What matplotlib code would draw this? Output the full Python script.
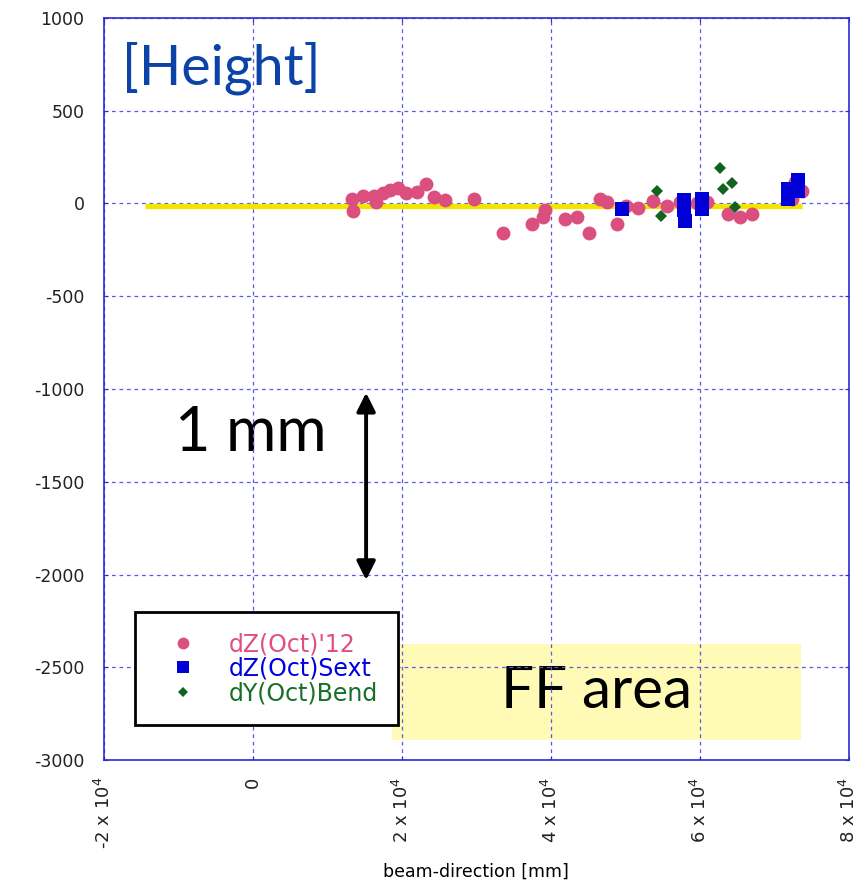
import matplotlib.pyplot as plt
from matplotlib.patches import Rectangle
from matplotlib.ticker import FixedLocator, FixedFormatter

plt.rcParams["axes.unicode_minus"] = False

# 测量数据 (beam-direction [mm], 高度偏差 [um])
dz12_x = [13300, 13500, 14850, 16200, 16500, 17500, 18400, 19550, 20600, 22000,
          23250, 24350, 25800, 29750, 33650, 37450, 39000, 39250, 41900, 43550,
          45200, 46650, 47550, 48850, 50100, 51750, 53700, 55650, 57350, 59600,
          60950, 63850, 65400, 67100, 72350, 72800, 73700]
dz12_y = [25, -38, 43, 43, 7, 56, 74, 85, 56, 61,
          106, 34, 20, 22, -160, -110, -74, -34, -83, -74,
          -160, 25, 7, -110, -11, -23, 16, -11, 7, 0,
          7, -59, -74, -59, 25, 115, 70]

sext_x = [49550, 57950, 57950, 58050, 60350, 60350, 71900, 71900, 73250, 73250]
sext_y = [-29, 20, -34, -92, 22, -29, 79, 25, 128, 70]

bend_x = [54300, 54750, 62700, 63100, 64300, 64750]
bend_y = [65, -70, 192, 79, 110, -20]

ref_x = [-14500, 73800]
ref_y = [-15, -15]

ff_x = [18700, 73600]
ff_y = [-2890, -2375]

x_ticks = [-20000, 0, 20000, 40000, 60000, 80000]
x_labels = ["-2 x 10$^{4}$", "0", "2 x 10$^{4}$", "4 x 10$^{4}$", "6 x 10$^{4}$", "8 x 10$^{4}$"]
y_ticks = [1000, 500, 0, -500, -1000, -1500, -2000, -2500, -3000]

frame_c = "#2a2ad8"
grid_c = "#5a5ae6"

fig = plt.figure(figsize=(8.57, 8.86), dpi=100)
ax = fig.add_axes([0.1214, 0.1422, 0.8687, 0.8375])
ax.set_xlim(-20000, 80000)
ax.set_ylim(-3000, 1000)

# 网格画在黄色区域和文字上面, 点在网格上面
ax.set_axisbelow(True)
ax.grid(True, color=grid_c, linestyle=(0, (3, 3)), linewidth=0.9)

ax.add_patch(Rectangle((ff_x[0], ff_y[0]), ff_x[1] - ff_x[0], ff_y[1] - ff_y[0],
                       facecolor="#fffab6", edgecolor="none", zorder=0.2))
ax.text((ff_x[0] + ff_x[1]) / 2, (ff_y[0] + ff_y[1]) / 2, "FF area",
        fontsize=42, family="Lato", ha="center", va="center", zorder=0.3)

ax.plot(ref_x, ref_y, color="#f2e600", linewidth=3.8, solid_capstyle="butt", zorder=2)

ax.plot(dz12_x, dz12_y, "o", color="#db4f7e", markersize=10, markeredgewidth=0,
        label="dZ(Oct)'12", zorder=3)
ax.plot(sext_x, sext_y, "s", color="#0000d6", markersize=10, markeredgewidth=0,
        label="dZ(Oct)Sext", zorder=4)
ax.plot(bend_x, bend_y, "D", color="#11631f", markersize=6.5, markeredgewidth=0,
        label="dY(Oct)Bend", zorder=5)

ax.text(-4300, 730, "[Height]", fontsize=40, family="Lato", color="#0b43a8",
        ha="center", va="center", zorder=0.3)
ax.text(-300, -1240, "1 mm", fontsize=44, family="Lato", color="black",
        ha="center", va="center", zorder=0.3)
ax.annotate("", xy=(15200, -1020), xytext=(15200, -2030),
            arrowprops=dict(arrowstyle="<|-|>", color="black", lw=2.8,
                            mutation_scale=28, shrinkA=0, shrinkB=0), zorder=3)

ax.xaxis.set_major_locator(FixedLocator(x_ticks))
ax.xaxis.set_major_formatter(FixedFormatter(x_labels))
ax.set_yticks(y_ticks)
ax.tick_params(axis="both", direction="in", length=3, color=frame_c,
               top=True, right=True, labelcolor="#222222")
ax.tick_params(axis="y", labelsize=12.5, pad=14)
ax.tick_params(axis="x", labelsize=13, pad=12, labelrotation=90)
for lab in ax.get_xticklabels():
    lab.set_va("top")
for sp in ax.spines.values():
    sp.set_color(frame_c)
    sp.set_linewidth(1.2)

ax.set_xlabel("beam-direction [mm]", fontsize=12.5)
ax.xaxis.set_label_coords(0.5, -0.139)

leg = ax.legend(loc="lower left", bbox_to_anchor=(0.041, 0.047), fontsize=17,
                frameon=True, fancybox=False, framealpha=1, edgecolor="black",
                handletextpad=0.72, borderpad=0.85, labelspacing=0.02,
                handlelength=2.4, borderaxespad=0, markerscale=0.85)
leg.get_frame().set_linewidth(2)
for txt, c in zip(leg.get_texts(), ["#e0507f", "#0000e0", "#16702a"]):
    txt.set_color(c)

fig.savefig("out.png", dpi=100)
